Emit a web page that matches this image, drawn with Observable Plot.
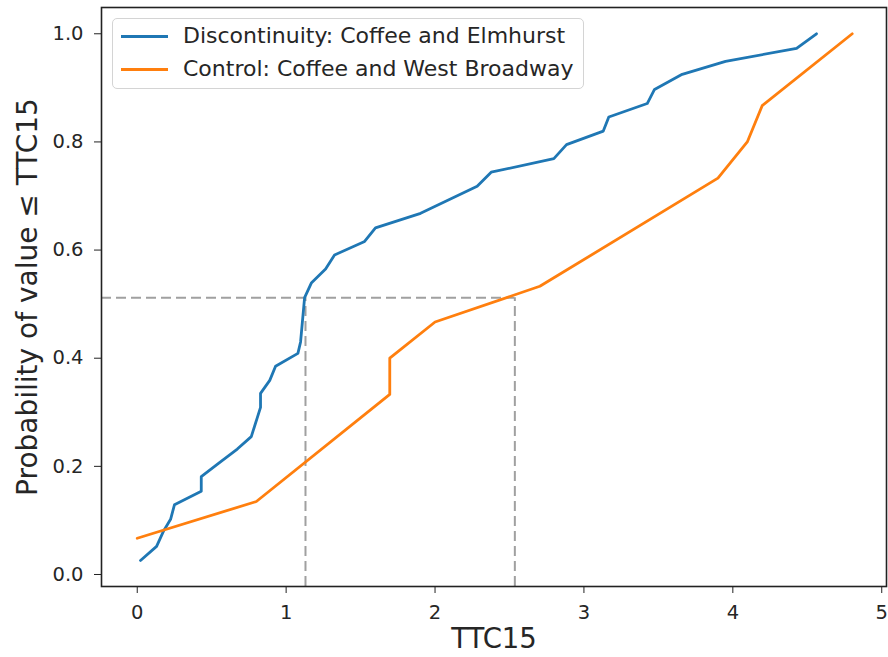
<!DOCTYPE html>
<html>
<head>
<meta charset="utf-8">
<script src="https://cdn.jsdelivr.net/npm/d3@7"></script>
<script src="https://cdn.jsdelivr.net/npm/@observablehq/plot@0.6"></script>
<style>
  html, body { margin: 0; padding: 0; background: #fff; }
  #wrap { position: relative; width: 888px; height: 657px; font-family: "DejaVu Sans", sans-serif; }
  #legend { position: absolute; left: 112px; top: 18px; width: 470px; height: 69px;
            border: 1px solid #d4d4d4; border-radius: 5px; background: rgba(255,255,255,0.85); }
  .sw { position: absolute; left: 8px; width: 47px; height: 3px; }
  .lt { position: absolute; left: 70px; font-size: 22px; line-height: 24px; color: #262626; white-space: nowrap; }
</style>
</head>
<body>
<div id="wrap"></div>
<script>
// Discontinuity: Coffee and Elmhurst (empirical CDF)
const discX = [0.022, 0.13, 0.178, 0.224, 0.25, 0.43, 0.43, 0.548, 0.672, 0.766, 0.828, 0.828, 0.89, 0.929, 1.079, 1.097, 1.124, 1.169, 1.265, 1.325, 1.527, 1.6, 1.903, 2.283, 2.377, 2.798, 2.883, 3.13, 3.167, 3.425, 3.474, 3.66, 3.951, 4.428, 4.562];
const discY = [0.026, 0.052, 0.081, 0.102, 0.129, 0.154, 0.181, 0.206, 0.232, 0.255, 0.309, 0.335, 0.359, 0.385, 0.409, 0.43, 0.512, 0.539, 0.565, 0.591, 0.616, 0.641, 0.668, 0.718, 0.744, 0.769, 0.795, 0.82, 0.846, 0.871, 0.897, 0.925, 0.949, 0.973, 1.0];
// Control: Coffee and West Broadway
const ctrlX = [0.0, 0.8, 1.696, 1.696, 2.0, 2.704, 3.9, 4.097, 4.197, 4.802];
const ctrlY = [0.067, 0.135, 0.333, 0.4, 0.467, 0.533, 0.733, 0.8, 0.867, 1.0];
// median guide lines
const medianLevel = [0.512];
const medianX = [1.13, 2.536];
const xTicks = [0, 1, 2, 3, 4, 5];
const yTicks = [0.0, 0.2, 0.4, 0.6, 0.8, 1.0];
const seriesNames = ["Discontinuity: Coffee and Elmhurst", "Control: Coffee and West Broadway"];
const seriesColors = ["#1f77b4", "#ff7f0e"];

const xDomain = [-0.24, 5.032];
const yDomain = [-0.0222, 1.0486];

const disc = discX.map((x, i) => ({x, y: discY[i]}));
const ctrl = ctrlX.map((x, i) => ({x, y: ctrlY[i]}));

const chart = Plot.plot({
  width: 888,
  height: 657,
  marginLeft: 101,
  marginRight: 2,
  marginTop: 7,
  marginBottom: 71,
  style: { fontFamily: "DejaVu Sans, sans-serif", background: "#fff", color: "#262626" },
  x: { domain: xDomain },
  y: { domain: yDomain },
  marks: [
    Plot.ruleY(medianLevel, { x1: xDomain[0], x2: medianX[1], stroke: "#a0a0a0", strokeWidth: 2, strokeDasharray: "10,5" }),
    Plot.ruleX(medianX, { y1: yDomain[0], y2: medianLevel[0], stroke: "#a0a0a0", strokeWidth: 2, strokeDasharray: "10,5" }),
    Plot.line(disc, { x: "x", y: "y", stroke: seriesColors[0], strokeWidth: 2.8 }),
    Plot.line(ctrl, { x: "x", y: "y", stroke: seriesColors[1], strokeWidth: 2.8 }),
    Plot.frame({ stroke: "#222", strokeWidth: 1.6 }),
    Plot.axisX({ ticks: xTicks, tickFormat: d3.format("d"), tickSize: 7, tickPadding: 12, fontSize: 19.5, label: null, stroke: "#222" }),
    Plot.axisY({ ticks: yTicks, tickFormat: d3.format(".1f"), tickSize: 7, tickPadding: 11, fontSize: 19.5, label: null, stroke: "#222" }),
    Plot.text(["TTC15"], { frameAnchor: "bottom", dy: 53, fontSize: 27.5, lineAnchor: "middle", fill: "#262626" }),
    Plot.text(["Probability of value ≤ TTC15"], { frameAnchor: "left", dx: -73, rotate: -90, fontSize: 28, lineAnchor: "middle", textAnchor: "middle", fill: "#262626" })
  ]
});

const wrap = document.getElementById("wrap");
wrap.appendChild(chart);

const legend = document.createElement("div");
legend.id = "legend";
seriesNames.forEach((name, i) => {
  const cy = i === 0 ? 17 : 50.3;
  const sw = document.createElement("div");
  sw.className = "sw";
  sw.style.top = (cy - 1.5) + "px";
  sw.style.background = seriesColors[i];
  const t = document.createElement("div");
  t.className = "lt";
  t.style.top = (cy - 12) + "px";
  t.textContent = name;
  legend.appendChild(sw);
  legend.appendChild(t);
});
wrap.appendChild(legend);
</script>
</body>
</html>
